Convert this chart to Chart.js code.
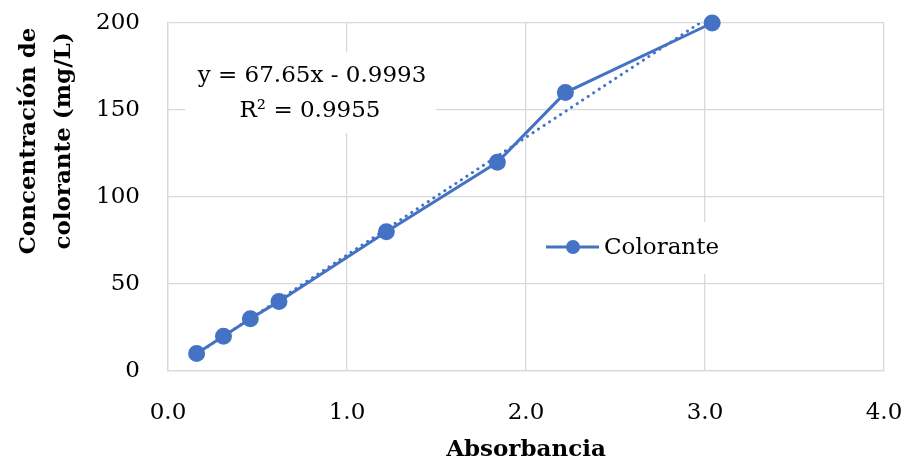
<!DOCTYPE html>
<html>
<head>
<meta charset="utf-8">
<script src="https://cdn.jsdelivr.net/npm/chart.js@4.4.1/dist/chart.umd.min.js"></script>
<style>
  body { margin: 0; background: #fff; }
</style>
</head>
<body>
<canvas id="myChart" width="906" height="464"></canvas>
<script>
// calibration data
let absorbancia = [0.16, 0.31, 0.46, 0.62, 1.22, 1.84, 2.22, 3.04];
let concentracion = [10, 20, 30, 40, 80, 120, 160, 200];
let xTicks = [0, 1, 2, 3, 4];
let yTicks = [0, 50, 100, 150, 200];
let trendSlope = 67.65;
let trendIntercept = -0.9993;
let trendR2 = 0.9955;

let serieColor = '#4472C4';
let fontFamily = '"DejaVu Serif", serif';

let puntos = absorbancia.map((x, i) => ({x: x, y: concentracion[i]}));
// linear trendline over the data range, from the fitted equation
let xMin = Math.min(...absorbancia), xMax = Math.max(...absorbancia);
let tendencia = [xMin, xMax].map(x => ({x: x, y: trendSlope * x + trendIntercept}));

// keep the plot area fixed: no extra room for overhanging tick labels
function fixBox(scale, key, size) {
    scale[key] = size;
    scale.paddingLeft = 0;
    scale.paddingRight = 0;
    scale.paddingTop = 0;
    scale.paddingBottom = 0;
}

// equation box, legend and the two-line y title
const overlays = {
    id: 'overlays',
    afterDraw(chart) {
        let ctx = chart.ctx;
        ctx.save();
        ctx.font = '23px ' + fontFamily;
        ctx.fillStyle = '#fff';
        ctx.fillRect(185, 52, 251, 81);
        ctx.fillStyle = '#000';
        ctx.textAlign = 'center';
        ctx.textBaseline = 'middle';
        let sign = trendIntercept < 0 ? ' - ' : ' + ';
        ctx.fillText('y = ' + trendSlope + 'x' + sign + Math.abs(trendIntercept), 312, 76);
        ctx.fillText('R\u00B2 = ' + trendR2, 310, 111);

        // legend
        ctx.fillStyle = '#fff';
        ctx.fillRect(528, 222, 217, 52);
        ctx.strokeStyle = serieColor;
        ctx.lineWidth = 3;
        ctx.beginPath();
        ctx.moveTo(546, 247);
        ctx.lineTo(599, 247);
        ctx.stroke();
        ctx.fillStyle = serieColor;
        ctx.beginPath();
        ctx.arc(573, 247, 7, 0, Math.PI * 2);
        ctx.fill();
        ctx.fillStyle = '#000';
        ctx.textAlign = 'left';
        ctx.fillText('Colorante', 604, 248);

        // y axis title
        ctx.font = 'bold 23px ' + fontFamily;
        ctx.textAlign = 'center';
        ctx.translate(0, 141);
        ctx.rotate(-Math.PI / 2);
        ctx.fillText('Concentración de', 0, 29);
        ctx.fillText('colorante (mg/L)', 0, 64);
        ctx.restore();
    }
};

let ctx = document.getElementById('myChart').getContext('2d');
let myChart = new Chart(ctx, {
    type: 'scatter',
    data: {
        datasets: [{
            label: 'Colorante',
            data: puntos,
            showLine: true,
            borderColor: serieColor,
            backgroundColor: serieColor,
            borderWidth: 3,
            pointRadius: 7,
            pointHoverRadius: 7,
            clip: 10,
            order: 1
        }, {
            label: 'Lineal (Colorante)',
            data: tendencia,
            showLine: true,
            borderColor: serieColor,
            borderWidth: 3,
            borderDash: [0.1, 6.5],
            borderCapStyle: 'round',
            pointRadius: 0,
            clip: 0,
            order: 2
        }]
    },
    options: {
        responsive: false,
        animation: false,
        layout: {
            padding: {left: 0, top: 23, right: 22, bottom: 0}
        },
        plugins: {
            legend: {display: false},
            tooltip: {enabled: false}
        },
        scales: {
            x: {
                type: 'linear',
                min: xTicks[0],
                max: xTicks[xTicks.length - 1],
                afterBuildTicks: s => { s.ticks = xTicks.map(v => ({value: v})); },
                afterFit: s => fixBox(s, 'height', 93),
                grid: {color: '#d9d9d9', lineWidth: 1.3, drawTicks: false},
                border: {color: '#d9d9d9', width: 1.3},
                ticks: {
                    padding: 28,
                    color: '#000',
                    font: {family: fontFamily, size: 23},
                    callback: v => v.toFixed(1)
                },
                title: {
                    display: true,
                    text: 'Absorbancia',
                    color: '#000',
                    font: {family: fontFamily, size: 23, weight: 'bold'},
                    padding: {top: 15, bottom: 0}
                }
            },
            y: {
                min: yTicks[0],
                max: yTicks[yTicks.length - 1],
                afterBuildTicks: s => { s.ticks = yTicks.map(v => ({value: v})); },
                afterFit: s => fixBox(s, 'width', 168),
                grid: {color: '#d9d9d9', lineWidth: 1.3, drawTicks: false},
                border: {color: '#d9d9d9', width: 1.3},
                ticks: {
                    padding: 28,
                    color: '#000',
                    font: {family: fontFamily, size: 23}
                }
            }
        }
    },
    plugins: [overlays]
});
</script>
</body>
</html>
